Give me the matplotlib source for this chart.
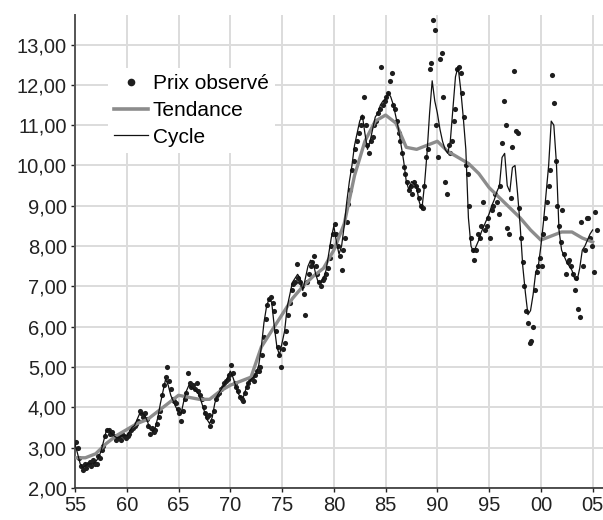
import numpy as np
import matplotlib
matplotlib.use("Agg")
import matplotlib.pyplot as plt
from matplotlib.lines import Line2D

plt.rcParams['font.family'] = ['Liberation Sans', 'DejaVu Sans']

# ---- data ----
first_year = 1955
# bi-monthly observed prices (Jan, Mar, May, Jul, Sep, Nov), 1955 .. mid-2005
prix_observe = [
    3.15, 3.0, 2.75, 2.55, 2.45, 2.6,      # 1955
    2.5, 2.6, 2.65, 2.55, 2.7, 2.6,        # 1956
    2.6, 2.8, 2.75, 2.95, 3.05, 3.3,       # 1957
    3.45, 3.45, 3.35, 3.4, 3.3, 3.2,       # 1958
    3.25, 3.3, 3.2, 3.35, 3.3, 3.25,       # 1959
    3.3, 3.35, 3.45, 3.5, 3.55, 3.6,       # 1960
    3.65, 3.9, 3.85, 3.75, 3.85, 3.7,      # 1961
    3.55, 3.35, 3.5, 3.4, 3.45, 3.6,       # 1962
    3.75, 3.9, 4.3, 4.55, 4.75, 5.0,       # 1963
    4.65, 4.45, 4.2, 4.15, 4.1, 3.95,      # 1964
    3.85, 3.65, 3.9, 4.2, 4.35, 4.85,      # 1965
    4.6, 4.5, 4.55, 4.45, 4.6, 4.4,        # 1966
    4.3, 4.2, 4.0, 3.85, 3.75, 3.8,        # 1967
    3.55, 3.65, 3.9, 4.2, 4.3, 4.35,       # 1968
    4.45, 4.5, 4.6, 4.65, 4.7, 4.8,        # 1969
    5.05, 4.85, 4.6, 4.5, 4.4, 4.25,       # 1970
    4.2, 4.15, 4.35, 4.5, 4.6, 4.7,        # 1971
    4.75, 4.65, 4.8, 4.9, 4.9, 5.0,        # 1972
    5.3, 5.75, 6.2, 6.55, 6.7, 6.75,       # 1973
    6.6, 6.4, 5.9, 5.5, 5.3, 5.0,          # 1974
    5.45, 5.6, 5.9, 6.3, 6.6, 6.9,         # 1975
    7.05, 7.1, 7.56, 7.2, 7.1, 7.0,        # 1976
    6.8, 6.3, 7.1, 7.3, 7.5, 7.6,          # 1977
    7.75, 7.5, 7.3, 7.1, 7.0, 7.15,        # 1978
    7.2, 7.3, 7.45, 7.7, 8.0, 8.3,         # 1979
    8.55, 8.3, 8.0, 7.75, 7.4, 7.9,        # 1980
    8.2, 8.6, 9.05, 9.4, 9.9, 10.1,        # 1981
    10.4, 10.6, 10.8, 11.0, 11.2, 11.7,    # 1982
    11.0, 10.5, 10.3, 10.6, 10.7, 11.0,    # 1983
    11.1, 11.3, 11.4, 12.45, 11.5, 11.6,   # 1984
    11.7, 11.8, 12.1, 12.3, 11.5, 11.4,    # 1985
    11.1, 10.8, 10.6, 10.3, 9.97, 9.8,     # 1986
    9.6, 9.4, 9.5, 9.3, 9.6, 9.5,          # 1987
    9.4, 9.2, 9.0, 8.95, 9.5, 10.2,        # 1988
    10.4, 12.4, 12.55, 13.6, 13.37, 11.0,  # 1989
    10.2, 12.65, 12.8, 11.7, 9.6, 9.3,     # 1990
    10.5, 10.3, 10.6, 11.1, 11.4, 12.4,    # 1991
    12.45, 12.3, 11.8, 11.2, 10.0, 9.8,    # 1992
    9.0, 8.2, 7.9, 7.65, 7.9, 8.3,         # 1993
    8.2, 8.5, 9.1, 8.4, 8.5, 8.7,          # 1994
    8.2, 8.9, 9.0, 9.3, 9.1, 8.8,          # 1995
    9.5, 10.55, 11.6, 11.0, 8.45, 8.3,     # 1996
    9.2, 10.47, 12.35, 10.85, 10.8, 8.95,  # 1997
    8.2, 7.6, 7.0, 6.4, 6.1, 5.6,          # 1998
    5.65, 6.0, 6.9, 7.35, 7.5, 7.7,        # 1999
    7.5, 8.3, 8.7, 9.1, 9.5, 9.9,          # 2000
    12.25, 11.55, 10.1, 9.0, 8.5, 8.1,     # 2001
    8.9, 7.8, 7.3, 7.6, 7.65, 7.5,         # 2002
    7.3, 6.9, 7.2, 6.45, 6.25, 8.6,        # 2003
    7.5, 7.9, 8.7, 8.7, 8.2, 8.0,          # 2004
    7.35, 8.85, 8.4,                       # 2005
]

# quarterly cycle (smoothed) values, 1955.00 .. 2005.00
cycle = [
    3.1, 2.85, 2.6, 2.5,      # 1955
    2.55, 2.6, 2.6, 2.6,      # 1956
    2.65, 2.75, 2.9, 3.15,    # 1957
    3.4, 3.45, 3.35, 3.3,     # 1958
    3.25, 3.25, 3.3, 3.3,     # 1959
    3.3, 3.4, 3.5, 3.55,      # 1960
    3.7, 3.85, 3.85, 3.8,     # 1961
    3.65, 3.45, 3.4, 3.5,     # 1962
    3.75, 4.1, 4.4, 4.7,      # 1963
    4.55, 4.3, 4.15, 4.0,     # 1964
    3.9, 3.85, 4.15, 4.4,     # 1965
    4.55, 4.5, 4.45, 4.4,     # 1966
    4.3, 4.1, 3.9, 3.7,       # 1967
    3.6, 3.75, 4.1, 4.3,      # 1968
    4.4, 4.5, 4.6, 4.75,      # 1969
    4.9, 4.75, 4.55, 4.35,    # 1970
    4.25, 4.25, 4.45, 4.6,    # 1971
    4.7, 4.75, 4.85, 5.05,    # 1972
    5.5, 6.1, 6.5, 6.7,       # 1973
    6.6, 6.0, 5.5, 5.3,       # 1974
    5.6, 5.9, 6.5, 6.8,       # 1975
    7.1, 7.2, 7.3, 7.2,       # 1976
    6.9, 7.2, 7.5, 7.65,      # 1977
    7.6, 7.3, 7.1, 7.1,       # 1978
    7.2, 7.4, 7.8, 8.2,       # 1979
    8.5, 8.1, 7.8, 8.0,       # 1980
    8.5, 9.1, 9.6, 10.0,      # 1981
    10.5, 10.8, 11.1, 11.25,  # 1982
    10.8, 10.4, 10.6, 10.9,   # 1983
    11.2, 11.3, 11.5, 11.6,   # 1984
    11.65, 11.8, 11.7, 11.5,  # 1985
    11.2, 10.9, 10.5, 10.1,   # 1986
    9.6, 9.4, 9.6, 9.55,      # 1987
    9.45, 9.1, 8.9, 9.5,      # 1988
    10.3, 11.3, 12.1, 11.6,   # 1989
    11.3, 10.9, 10.6, 10.4,   # 1990
    10.3, 10.6, 11.4, 12.2,   # 1991
    12.45, 11.9, 11.2, 10.4,  # 1992
    8.7, 8.0, 7.85, 8.0,      # 1993
    8.15, 8.35, 8.5, 8.65,    # 1994
    8.8, 9.0, 9.15, 9.35,     # 1995
    9.5, 10.2, 10.3, 9.5,     # 1996
    9.35, 9.95, 10.0, 9.3,    # 1997
    8.5, 7.5, 6.85, 6.3,      # 1998
    6.4, 6.8, 7.35, 7.5,      # 1999
    8.0, 8.6, 9.3, 10.0,      # 2000
    11.1, 11.0, 10.06, 8.4,   # 2001
    7.9, 7.75, 7.6, 7.5,      # 2002
    7.4, 7.2, 7.15, 7.45,     # 2003
    7.9, 8.0, 8.15, 8.3,      # 2004
    8.4,                      # 2005
]

# yearly trend values 1955 .. 2005
tendance = [
    2.75, 2.75, 2.85, 3.1, 3.3, 3.45, 3.6, 3.7, 3.9, 4.1,       # 1955-64
    4.3, 4.25, 4.2, 4.2, 4.4, 4.55, 4.65, 4.75, 5.5, 5.9,       # 1965-74
    6.3, 6.7, 7.0, 7.25, 7.45, 7.9, 8.55, 9.75, 10.6, 11.1,     # 1975-84
    11.25, 11.05, 10.45, 10.4, 10.5, 10.6, 10.35, 10.2, 10.05, 9.8,  # 1985-94
    9.45, 9.2, 8.95, 8.7, 8.4, 8.15, 8.25, 8.35, 8.35, 8.2,     # 1995-2004
    8.1,                                                         # 2005
]

x_ticks = [1955, 1960, 1965, 1970, 1975, 1980, 1985, 1990, 1995, 2000, 2005]
x_tick_labels = ['55', '60', '65', '70', '75', '80', '85', '90', '95', '00', '05']
y_ticks = [2, 3, 4, 5, 6, 7, 8, 9, 10, 11, 12, 13]
y_tick_labels = ['2,00', '3,00', '4,00', '5,00', '6,00', '7,00', '8,00',
                 '9,00', '10,00', '11,00', '12,00', '13,00']
legend_labels = ['Prix observé', 'Tendance', 'Cycle']

# ---- time axes ----
t_obs = first_year + (2 * np.arange(len(prix_observe)) + 1) / 12.0
t_cyc = first_year + np.arange(len(cycle)) / 4.0
t_tend = first_year + np.arange(len(tendance))

fig = plt.figure(figsize=(6.03, 5.20), dpi=100)
ax = fig.add_axes([0.1244, 0.0615, 0.8756, 0.9095])

dark = '#1e1e1e'
grey = '#8c8c8c'

ax.plot(t_obs, prix_observe, 'o', color=dark, markersize=3.7, markeredgewidth=0, zorder=3)
ax.plot(t_tend, tendance, '-', color=grey, linewidth=2.4, zorder=4)
ax.plot(t_cyc, cycle, '-', color='#111111', linewidth=0.9, zorder=5)

ax.set_xlim(1955, 2006)
ax.set_ylim(2, 13.73)
ax.set_xticks(x_ticks)
ax.set_xticklabels(x_tick_labels)
ax.set_yticks(y_ticks)
ax.set_yticklabels(y_tick_labels)

ax.grid(True, color='#dcdcdc', linewidth=1.4, zorder=0)
ax.set_axisbelow(True)
for s in ['top', 'right']:
    ax.spines[s].set_visible(False)
ax.spines['left'].set_color('#555555')
ax.spines['left'].set_linewidth(1.4)
ax.spines['bottom'].set_color('#333333')
ax.spines['bottom'].set_linewidth(1.2)
ax.tick_params(axis='both', labelsize=14.5, colors='#222222', direction='out', length=3, width=1)
ax.tick_params(axis='x', pad=3)
ax.tick_params(axis='y', pad=3)

handles = [
    Line2D([], [], marker='o', linestyle='none', color=dark, markersize=5.5, markeredgewidth=0),
    Line2D([], [], color=grey, linewidth=2.6),
    Line2D([], [], color='#111111', linewidth=0.9),
]
leg = ax.legend(handles, legend_labels, loc='upper left', bbox_to_anchor=(0.0625, 0.888),
                borderaxespad=0, frameon=True, fancybox=False, framealpha=1,
                facecolor='white', edgecolor='none', fontsize=15,
                handlelength=1.6, handletextpad=0.25, labelspacing=0.37, borderpad=0.3)
leg.set_zorder(6)

fig.savefig('out.png', dpi=100)
